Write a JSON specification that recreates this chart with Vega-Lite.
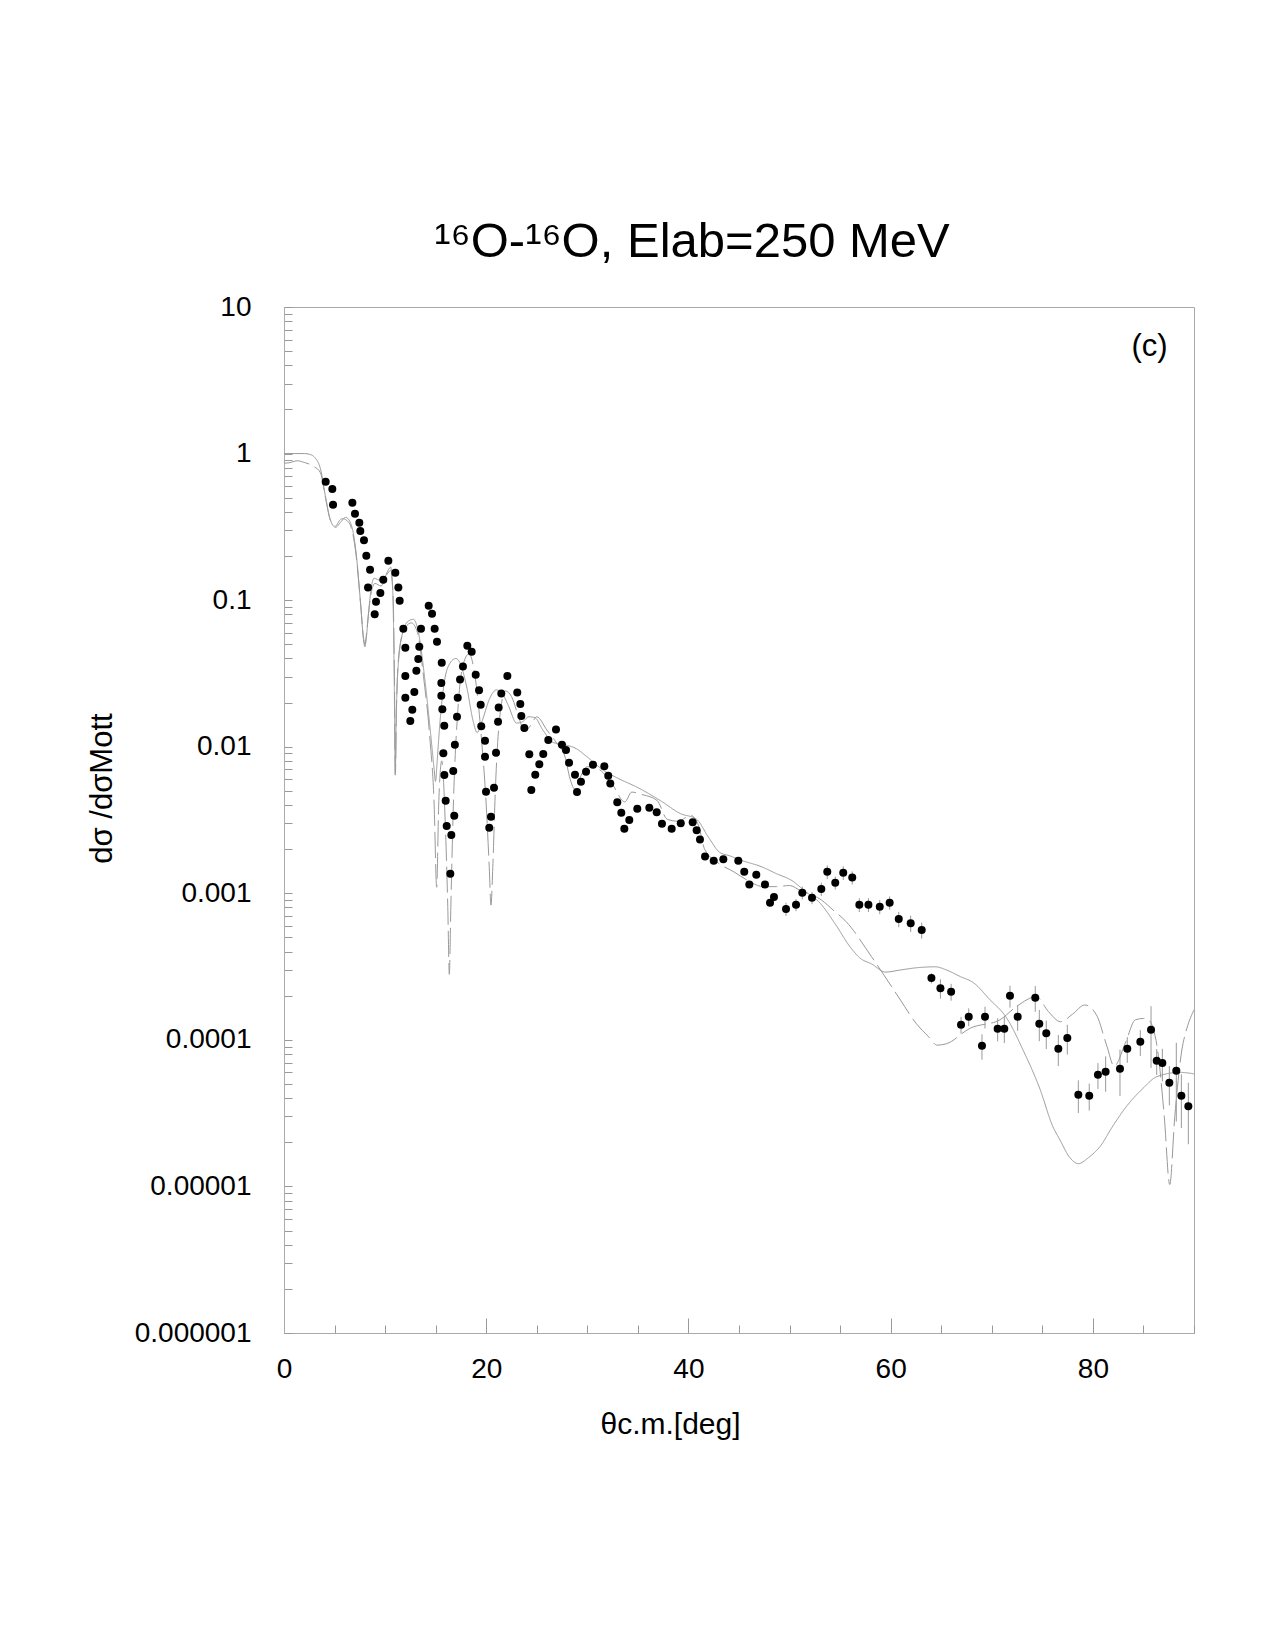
{
  "$schema": "https://vega.github.io/schema/vega-lite/v6.json",
  "width": 910,
  "height": 1026,
  "autosize": {"type": "none"},
  "padding": {"left": 284, "top": 307, "right": 81, "bottom": 317},
  "background": "white",
  "config": {
    "font": "Liberation Sans",
    "view": {"stroke": "#aaaaaa", "strokeWidth": 1}
  },
  "title": {
    "text": "¹⁶O-¹⁶O, Elab=250 MeV",
    "font": "Liberation Sans",
    "fontSize": 49,
    "fontWeight": "normal",
    "color": "black",
    "anchor": "middle",
    "frame": "group",
    "baseline": "alphabetic",
    "dx": -47,
    "offset": -13
  },
  "datasets": {
    "curves": [
      {"m":"A","th":0,"v":1.0},{"m":"A","th":1,"v":1.0},{"m":"A","th":2,"v":1.0},{"m":"A","th":2.5,"v":0.99},{"m":"A","th":3.1,"v":0.93},{"m":"A","th":3.6,"v":0.79},{"m":"A","th":4.1,"v":0.51},{"m":"A","th":4.6,"v":0.35},{"m":"A","th":5.1,"v":0.314},{"m":"A","th":5.6,"v":0.34},{"m":"A","th":6.1,"v":0.367},{"m":"A","th":6.6,"v":0.334},{"m":"A","th":7.1,"v":0.22},{"m":"A","th":7.6,"v":0.09},{"m":"A","th":7.85,"v":0.055},{"m":"A","th":8.0,"v":0.048},{"m":"A","th":8.15,"v":0.056},{"m":"A","th":8.35,"v":0.08},{"m":"A","th":8.6,"v":0.117},{"m":"A","th":8.9,"v":0.141},{"m":"A","th":9.4,"v":0.137},{"m":"A","th":9.8,"v":0.135},{"m":"A","th":10.2,"v":0.155},{"m":"A","th":10.55,"v":0.168},{"m":"A","th":10.75,"v":0.12},{"m":"A","th":10.9,"v":0.03},{"m":"A","th":11.0,"v":0.0064},{"m":"A","th":11.1,"v":0.016},{"m":"A","th":11.35,"v":0.04},{"m":"A","th":11.8,"v":0.062},{"m":"A","th":12.3,"v":0.072},{"m":"A","th":12.8,"v":0.074},{"m":"A","th":13.3,"v":0.06},{"m":"A","th":13.9,"v":0.03},{"m":"A","th":14.5,"v":0.0123},{"m":"A","th":14.85,"v":0.007},{"m":"A","th":14.98,"v":0.0058},{"m":"A","th":15.15,"v":0.008},{"m":"A","th":15.4,"v":0.014},{"m":"A","th":15.8,"v":0.026},{"m":"A","th":16.4,"v":0.037},{"m":"A","th":17.0,"v":0.04},{"m":"A","th":17.5,"v":0.036},{"m":"A","th":18.1,"v":0.025},{"m":"A","th":18.7,"v":0.015},{"m":"A","th":19.1,"v":0.0125},{"m":"A","th":19.6,"v":0.015},{"m":"A","th":20.3,"v":0.021},{"m":"A","th":21.0,"v":0.0244},{"m":"A","th":21.6,"v":0.023},{"m":"A","th":22.2,"v":0.019},{"m":"A","th":23.0,"v":0.0145},{"m":"A","th":23.6,"v":0.0148},{"m":"A","th":24.2,"v":0.016},{"m":"A","th":24.8,"v":0.0158},{"m":"A","th":25.6,"v":0.013},{"m":"A","th":26.6,"v":0.0107},{"m":"A","th":27.5,"v":0.0104},{"m":"A","th":28.9,"v":0.0097},{"m":"A","th":30.0,"v":0.0085},{"m":"A","th":31.6,"v":0.0069},{"m":"A","th":33.0,"v":0.0061},{"m":"A","th":34.9,"v":0.0053},{"m":"A","th":37.2,"v":0.0043},{"m":"A","th":39.2,"v":0.0035},{"m":"A","th":40.8,"v":0.0032},{"m":"A","th":42.0,"v":0.0024},{"m":"A","th":43.1,"v":0.0019},{"m":"A","th":44.1,"v":0.0018},{"m":"A","th":45.0,"v":0.0017},{"m":"A","th":47.4,"v":0.0015},{"m":"A","th":48.6,"v":0.00137},{"m":"A","th":50.4,"v":0.0012},{"m":"A","th":51.4,"v":0.00105},{"m":"A","th":53.0,"v":0.00086},{"m":"A","th":54.5,"v":0.00062},{"m":"A","th":56.0,"v":0.00043},{"m":"A","th":57.0,"v":0.00036},{"m":"A","th":58.1,"v":0.00033},{"m":"A","th":59.5,"v":0.00029},{"m":"A","th":61.0,"v":0.0003},{"m":"A","th":62.5,"v":0.00031},{"m":"A","th":64.45,"v":0.000315},{"m":"A","th":65.5,"v":0.0003},{"m":"A","th":66.9,"v":0.00027},{"m":"A","th":68.2,"v":0.000245},{"m":"A","th":69.75,"v":0.00019},{"m":"A","th":71.5,"v":0.00014},{"m":"A","th":73.1,"v":0.000085},{"m":"A","th":74.8,"v":0.0000455},{"m":"A","th":76.0,"v":0.000026},{"m":"A","th":76.75,"v":0.0000207},{"m":"A","th":77.7,"v":0.0000158},{"m":"A","th":78.56,"v":0.0000143},{"m":"A","th":79.6,"v":0.0000158},{"m":"A","th":80.7,"v":0.0000187},{"m":"A","th":82.0,"v":0.000026},{"m":"A","th":83.3,"v":0.000035},{"m":"A","th":85.0,"v":0.000047},{"m":"A","th":86.3,"v":0.000056},{"m":"A","th":88.6,"v":0.00006},{"m":"A","th":90,"v":0.0000586},
      {"m":"B","th":0,"v":0.86},{"m":"B","th":0.5,"v":0.865},{"m":"B","th":1.3,"v":0.893},{"m":"B","th":2.0,"v":0.87},{"m":"B","th":2.94,"v":0.817},{"m":"B","th":3.6,"v":0.74},{"m":"B","th":4.1,"v":0.5},{"m":"B","th":4.6,"v":0.35},{"m":"B","th":5.1,"v":0.32},{"m":"B","th":5.5,"v":0.35},{"m":"B","th":5.8,"v":0.36},{"m":"B","th":6.2,"v":0.35},{"m":"B","th":6.6,"v":0.32},{"m":"B","th":7.1,"v":0.21},{"m":"B","th":7.6,"v":0.09},{"m":"B","th":7.85,"v":0.056},{"m":"B","th":8.0,"v":0.05},{"m":"B","th":8.15,"v":0.058},{"m":"B","th":8.35,"v":0.08},{"m":"B","th":8.6,"v":0.11},{"m":"B","th":9.0,"v":0.13},{"m":"B","th":9.6,"v":0.125},{"m":"B","th":10.2,"v":0.15},{"m":"B","th":10.55,"v":0.16},{"m":"B","th":10.8,"v":0.1},{"m":"B","th":10.92,"v":0.03},{"m":"B","th":11.02,"v":0.0066},{"m":"B","th":11.12,"v":0.018},{"m":"B","th":11.4,"v":0.045},{"m":"B","th":12.0,"v":0.065},{"m":"B","th":12.6,"v":0.07},{"m":"B","th":13.2,"v":0.06},{"m":"B","th":13.8,"v":0.03},{"m":"B","th":14.4,"v":0.012},{"m":"B","th":14.85,"v":0.004},{"m":"B","th":15.1,"v":0.0011},{"m":"B","th":15.3,"v":0.004},{"m":"B","th":15.6,"v":0.008},{"m":"B","th":15.95,"v":0.003},{"m":"B","th":16.2,"v":0.0008},{"m":"B","th":16.35,"v":0.00028},{"m":"B","th":16.5,"v":0.0008},{"m":"B","th":16.75,"v":0.004},{"m":"B","th":17.2,"v":0.018},{"m":"B","th":17.8,"v":0.038},{"m":"B","th":18.3,"v":0.043},{"m":"B","th":18.9,"v":0.03},{"m":"B","th":19.5,"v":0.012},{"m":"B","th":20.0,"v":0.004},{"m":"B","th":20.3,"v":0.0015},{"m":"B","th":20.47,"v":0.00083},{"m":"B","th":20.65,"v":0.0015},{"m":"B","th":20.9,"v":0.005},{"m":"B","th":21.3,"v":0.015},{"m":"B","th":21.9,"v":0.024},{"m":"B","th":22.5,"v":0.022},{"m":"B","th":23.2,"v":0.016},{"m":"B","th":23.8,"v":0.0127},{"m":"B","th":24.4,"v":0.014},{"m":"B","th":25.0,"v":0.016},{"m":"B","th":26.0,"v":0.013},{"m":"B","th":27.0,"v":0.0105},{"m":"B","th":27.8,"v":0.0085},{"m":"B","th":28.3,"v":0.006},{"m":"B","th":28.8,"v":0.0051},{"m":"B","th":29.3,"v":0.0062},{"m":"B","th":30.0,"v":0.0073},{"m":"B","th":31.0,"v":0.0071},{"m":"B","th":32.5,"v":0.0055},{"m":"B","th":33.7,"v":0.0042},{"m":"B","th":34.4,"v":0.0049},{"m":"B","th":35.5,"v":0.0047},{"m":"B","th":36.9,"v":0.0043},{"m":"B","th":37.9,"v":0.0032},{"m":"B","th":39.0,"v":0.0031},{"m":"B","th":40.2,"v":0.0034},{"m":"B","th":41.0,"v":0.0029},{"m":"B","th":41.6,"v":0.002},{"m":"B","th":43.0,"v":0.0016},{"m":"B","th":44.5,"v":0.0014},{"m":"B","th":45.8,"v":0.00123},{"m":"B","th":47.4,"v":0.00111},{"m":"B","th":48.7,"v":0.00111},{"m":"B","th":50.0,"v":0.00113},{"m":"B","th":51.0,"v":0.00105},{"m":"B","th":53.15,"v":0.0009},{"m":"B","th":54.3,"v":0.00077},{"m":"B","th":55.6,"v":0.00064},{"m":"B","th":58.1,"v":0.00037},{"m":"B","th":60.9,"v":0.00019},{"m":"B","th":62.5,"v":0.00013},{"m":"B","th":63.75,"v":0.000105},{"m":"B","th":64.6,"v":0.000092},{"m":"B","th":65.5,"v":0.000094},{"m":"B","th":67.85,"v":0.00012},{"m":"B","th":70.8,"v":0.000137},{"m":"B","th":72.5,"v":0.00017},{"m":"B","th":74.4,"v":0.000197},{"m":"B","th":75.6,"v":0.000156},{"m":"B","th":76.8,"v":0.000133},{"m":"B","th":78.0,"v":0.00015},{"m":"B","th":79.2,"v":0.000173},{"m":"B","th":80.35,"v":0.000148},{"m":"B","th":81.4,"v":0.00009},{"m":"B","th":82.1,"v":0.000066},{"m":"B","th":83.2,"v":0.0000946},{"m":"B","th":84.2,"v":0.000137},{"m":"B","th":85.0,"v":0.00014},{"m":"B","th":85.5,"v":0.000137},{"m":"B","th":86.35,"v":0.00009},{"m":"B","th":87.06,"v":0.00003},{"m":"B","th":87.6,"v":0.0000103},{"m":"B","th":88.1,"v":0.00003},{"m":"B","th":88.8,"v":0.0000853},{"m":"B","th":89.3,"v":0.00012},{"m":"B","th":90,"v":0.00016}
    ],
    "pts": [
      {"th":4.12,"v":0.643},{"th":4.78,"v":0.573},{"th":4.85,"v":0.448},{"th":6.76,"v":0.462},{"th":7.02,"v":0.389},{"th":7.45,"v":0.337},{"th":7.55,"v":0.296},{"th":7.91,"v":0.256},{"th":8.14,"v":0.201},{"th":8.51,"v":0.161},{"th":8.31,"v":0.122},{"th":9.10,"v":0.0976},{"th":8.97,"v":0.080},{"th":9.53,"v":0.112},{"th":9.82,"v":0.138},{"th":10.32,"v":0.186},{"th":11.01,"v":0.154},{"th":11.31,"v":0.122},{"th":11.44,"v":0.099},{"th":11.80,"v":0.0638},{"th":12.0,"v":0.0474},{"th":12.0,"v":0.0304},{"th":12.0,"v":0.0216},{"th":12.69,"v":0.0179},{"th":12.49,"v":0.0150},{"th":12.89,"v":0.0236},{"th":13.09,"v":0.0330},{"th":13.28,"v":0.0397},{"th":13.38,"v":0.0481},{"th":13.55,"v":0.0638},{"th":14.31,"v":0.0917},{"th":14.64,"v":0.0808},{"th":14.9,"v":0.0638},{"th":15.13,"v":0.052},{"th":15.6,"v":0.0374},{"th":15.56,"v":0.0272},{"th":15.56,"v":0.0223},{"th":15.66,"v":0.0180},{"th":15.85,"v":0.0139},
      {"th":15.76,"v":0.00902},{"th":15.86,"v":0.00641},{"th":15.99,"v":0.00428},{"th":16.09,"v":0.00288},{"th":16.55,"v":0.0025},{"th":16.84,"v":0.00338},{"th":16.45,"v":0.00136},{"th":16.74,"v":0.00682},{"th":16.9,"v":0.0103},
      {"th":17.11,"v":0.0160},{"th":17.18,"v":0.0216},{"th":17.41,"v":0.0288},{"th":17.7,"v":0.0352},{"th":18.13,"v":0.0489},{"th":18.56,"v":0.0445},{"th":18.96,"v":0.0310},{"th":19.29,"v":0.0243},{"th":19.45,"v":0.0193},{"th":19.51,"v":0.0138},
      {"th":19.88,"v":0.0110},{"th":19.88,"v":0.00855},{"th":19.98,"v":0.00493},{"th":20.47,"v":0.00333},{"th":20.30,"v":0.0028},{"th":20.77,"v":0.00525},{"th":20.97,"v":0.0091},{"th":21.17,"v":0.0148},{"th":21.23,"v":0.0185},{"th":21.49,"v":0.0231},{"th":22.09,"v":0.0304},{"th":23.07,"v":0.0234},{"th":23.37,"v":0.0196},{"th":23.47,"v":0.0162},{"th":23.77,"v":0.0134},{"th":24.26,"v":0.00888},{"th":24.46,"v":0.00507},{"th":24.85,"v":0.00644},{"th":25.25,"v":0.00759},{"th":25.64,"v":0.00891},{"th":26.14,"v":0.0111},{"th":26.9,"v":0.0131},{"th":27.49,"v":0.0103},{"th":27.89,"v":0.0095},{"th":28.19,"v":0.00778},{"th":28.78,"v":0.00644},{"th":29.37,"v":0.00577},{"th":28.98,"v":0.00491},{"th":29.87,"v":0.00676},{"th":30.56,"v":0.00754},{"th":31.68,"v":0.00735},{"th":32.07,"v":0.00634},{"th":32.27,"v":0.0056},{"th":32.96,"v":0.00418},{"th":33.36,"v":0.00355},{"th":33.66,"v":0.00276},{"th":34.15,"v":0.00316},{"th":34.94,"v":0.00378},{"th":36.13,"v":0.00384},{"th":36.86,"v":0.00357},{"th":37.38,"v":0.00298},{"th":38.34,"v":0.00276},{"th":39.24,"v":0.0030},
      {"th":40.42,"v":0.00305},{"th":40.81,"v":0.00269},{"th":41.14,"v":0.00233},{"th":41.64,"v":0.00178},{"th":42.5,"v":0.00167},{"th":43.45,"v":0.00171},{"th":44.93,"v":0.00167},{"th":45.52,"v":0.00140},{"th":46.71,"v":0.00134},{"th":46.02,"v":0.00115},{"th":47.57,"v":0.00115},{"th":48.46,"v":0.000943},{"th":48.07,"v":0.000862},
      {"th":49.65,"v":0.000781,"e":0.00008},{"th":50.64,"v":0.000835,"e":0.00008},{"th":51.26,"v":0.00101,"e":0.0001},{"th":52.22,"v":0.000933,"e":0.00009},{"th":53.14,"v":0.00107,"e":0.00011},{"th":53.73,"v":0.0014,"e":0.00015},{"th":54.52,"v":0.00118,"e":0.00012},{"th":55.31,"v":0.00138,"e":0.00015},{"th":56.2,"v":0.00128,"e":0.00013},{"th":56.9,"v":0.000835,"e":0.00009},{"th":57.8,"v":0.000835,"e":0.00009},{"th":58.92,"v":0.00081,"e":0.00009},{"th":59.9,"v":0.000862,"e":0.00009},{"th":60.8,"v":0.000667,"e":0.00008},{"th":61.98,"v":0.000624,"e":0.00008},{"th":63.07,"v":0.000561,"e":0.00007},
      {"th":64.03,"v":0.000264,"e":0.000021},{"th":64.92,"v":0.000225,"e":0.000034},{"th":65.98,"v":0.000213,"e":0.000028},{"th":66.96,"v":0.000127,"e":0.0000165},{"th":67.72,"v":0.000144,"e":0.00002},{"th":69.03,"v":0.0000912,"e":0.000018},{"th":69.33,"v":0.000144,"e":0.0000245},{"th":70.58,"v":0.000119,"e":0.0000214},{"th":71.24,"v":0.000119,"e":0.000024},{"th":71.8,"v":0.0002,"e":0.000034},{"th":72.56,"v":0.000144,"e":0.0000288},{"th":74.3,"v":0.000194,"e":0.0000388},{"th":74.7,"v":0.000129,"e":0.000031},{"th":75.39,"v":0.000111,"e":0.0000244},{"th":76.58,"v":0.0000871,"e":0.0000209},{"th":77.47,"v":0.000103,"e":0.0000237},{"th":78.56,"v":0.0000423,"e":0.0000106},{"th":79.64,"v":0.0000416,"e":0.0000087},{"th":80.50,"v":0.0000578,"e":0.0000116},{"th":81.26,"v":0.0000607,"e":0.0000164},{"th":82.68,"v":0.0000636,"e":0.0000223},{"th":83.4,"v":0.0000871,"e":0.0000174},{"th":84.69,"v":0.0000971,"e":0.0000194},{"th":85.75,"v":0.000117,"e":0.0000527},{"th":86.31,"v":0.0000721,"e":0.0000144},{"th":86.87,"v":0.0000695,"e":0.0000174},{"th":87.56,"v":0.000051,"e":0.0000153},{"th":88.25,"v":0.0000616,"e":0.0000339},{"th":88.75,"v":0.0000416,"e":0.0000166},{"th":89.44,"v":0.0000352,"e":0.0000158}
    ]
  },
  "layer": [
    {
      "data": {"name": "curves"},
      "mark": {"type": "line", "color": "#999999", "strokeWidth": 1, "interpolate": "monotone", "clip": true},
      "encoding": {
        "x": {
          "field": "th", "type": "quantitative", "title": "θc.m.[deg]",
          "scale": {"domain": [0, 90], "nice": false, "zero": false},
          "axis": {
            "values": [0,5,10,15,20,25,30,35,40,45,50,55,60,65,70,75,80,85,90],
            "labelExpr": "datum.value % 20 === 0 ? format(datum.value, 'd') : ''",
            "tickSize": {"condition": {"test": "datum.value % 20 === 0", "value": -15}, "value": -8},
            "labelPadding": 37,
            "labelFontSize": 28,
            "labelFont": "Liberation Sans",
            "labelColor": "black",
            "labelFlush": false,
            "labelOverlap": false,
            "labelBound": false,
            "grid": false,
            "domainColor": "#aaaaaa",
            "tickColor": "#999999",
            "titleFont": "Liberation Sans",
            "titleFontSize": 30,
            "titleFontWeight": "normal",
            "titleColor": "black",
            "titleX": 386,
            "titleY": 100,
            "titleAlign": "center",
            "titleBaseline": "alphabetic"
          }
        },
        "y": {
          "field": "v", "type": "quantitative", "title": "dσ /dσMott",
          "scale": {"type": "log", "domain": [0.000001, 10], "nice": false},
          "axis": {
            "values": [0.000001,0.000002,0.000003,0.000004,0.000005,0.000006,0.000007,0.000008,0.000009,0.00001,0.00002,0.00003,0.00004,0.00005,0.00006,0.00007,0.00008,0.00009,0.0001,0.0002,0.0003,0.0004,0.0005,0.0006,0.0007,0.0008,0.0009,0.001,0.002,0.003,0.004,0.005,0.006,0.007,0.008,0.009,0.01,0.02,0.03,0.04,0.05,0.06,0.07,0.08,0.09,0.1,0.2,0.3,0.4,0.5,0.6,0.7,0.8,0.9,1,2,3,4,5,6,7,8,9,10],
            "labelExpr": "abs(log(datum.value)/LN10 - round(log(datum.value)/LN10)) < 0.001 ? format(datum.value, '.6~f') : ''",
            "tickSize": -8,
            "labelPadding": 41,
            "labelFontSize": 28,
            "labelFont": "Liberation Sans",
            "labelColor": "black",
            "labelFlush": false,
            "labelOverlap": false,
            "labelBound": false,
            "grid": false,
            "domainColor": "#aaaaaa",
            "tickColor": "#999999",
            "titleFont": "Liberation Sans",
            "titleFontSize": 31,
            "titleFontWeight": "normal",
            "titleColor": "black",
            "titleX": -182,
            "titleY": 481,
            "titleAlign": "center",
            "titleBaseline": "middle"
          }
        },
        "strokeDash": {
          "field": "m", "type": "nominal",
          "scale": {"domain": ["A", "B"], "range": [[1, 0], [26, 6]]},
          "legend": null
        }
      }
    },
    {
      "data": {"name": "pts"},
      "transform": [{"filter": "datum.e > 0"}],
      "mark": {"type": "errorbar", "color": "#999999", "thickness": 1},
      "encoding": {
        "x": {"field": "th", "type": "quantitative", "title": "θc.m.[deg]"},
        "y": {"field": "v", "type": "quantitative", "title": "dσ /dσMott"},
        "yError": {"field": "e"}
      }
    },
    {
      "data": {"name": "pts"},
      "mark": {"type": "circle", "color": "black", "opacity": 1, "size": 64},
      "encoding": {
        "x": {"field": "th", "type": "quantitative", "title": "θc.m.[deg]"},
        "y": {"field": "v", "type": "quantitative", "title": "dσ /dσMott"}
      }
    },
    {
      "data": {"values": [{"t": "(c)"}]},
      "mark": {"type": "text", "fontSize": 31, "font": "Liberation Sans", "color": "black", "align": "center", "baseline": "middle"},
      "encoding": {
        "x": {"datum": 85.6, "title": "θc.m.[deg]"},
        "y": {"datum": 5.3, "title": "dσ /dσMott"},
        "text": {"field": "t", "type": "nominal"}
      }
    }
  ]
}
